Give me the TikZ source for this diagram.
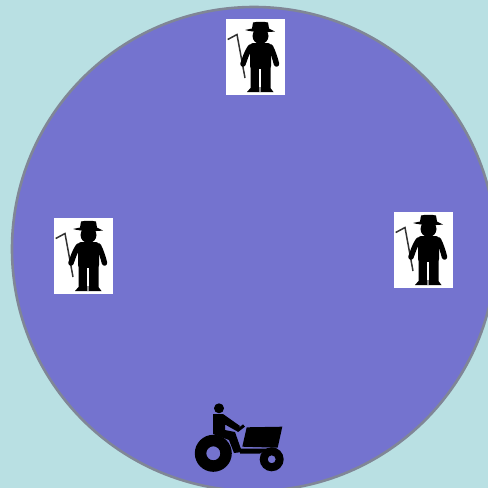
\documentclass[tikz,border=0pt]{standalone}
\usepackage{xcolor}
\usetikzlibrary{calc}
\definecolor{pageBg}{RGB}{185, 224, 227}
\definecolor{fieldFill}{RGB}{116, 115, 207}
\definecolor{fieldEdge}{RGB}{128, 134, 150}
\tikzset{
  limb/.style={draw=black, line width=5.5pt, line cap=round, line join=round},
  farmer/.pic={
    \fill[white] (0,0) rectangle (59,76);
    % hoe
    \draw[black!80, line width=1.5pt] (19,59) -- (11,15.5) -- (1.7,20.5);
    % hat
    \fill[black] (27,3.5) .. controls (31,2.5) and (38,2.5) .. (42,3.5) -- (43,9.5) -- (49,12.5) .. controls (40,13.5) and (28,13.5) .. (19,11) -- (26,9.5) -- cycle;
    \fill[black] (34.5,17) circle (8);
    % body and arms
    \fill[black, rounded corners=3pt] (24,24) rectangle (45,50);
    \draw[limb] (24.5,28) .. controls (21,33) and (19,39) .. (17,45);
    \draw[limb] (44.5,28) .. controls (47,33) and (49,39) .. (50.5,45);
    \fill[black] (24.5,45) -- (44.5,45) -- (44.5,69) -- (47.5,73) -- (21,73) -- (24.5,69) -- cycle;
    \fill[white] (32.7,50) rectangle (35.2,68);
    \fill[black!45] (32.7,68) rectangle (35.2,73);
  },
  tractor/.pic={
    \fill[black] (34,13.3) circle (5);
    % driver
    \fill[black] (28,19) -- (38,19) -- (55,31) -- (51.5,36) -- (40,29.5) -- (40,35) -- (50,37) -- (57,57) -- (49,58) -- (44,45) -- (28,39) -- cycle;
    \draw[black, line width=3pt] (52,36) -- (59,30.5);
    % hood and chassis
    \fill[black] (61.7,32.3) -- (97.3,31.7) -- (92.7,52.7) -- (57.3,51.7) -- cycle;
    \fill[black] (55,53.5) -- (84,53.5) -- (75,58.5) -- (55,58.5) -- cycle;
    % wheels
    \fill[black, even odd rule] (28.3,58.3) circle (18.5) (28.3,58.3) circle (7);
    \fill[black, even odd rule] (86.7,64.3) circle (12) (86.7,64.3) circle (4);
  }
}
\begin{document}
\begin{tikzpicture}[x=1pt, y=-1pt]
  \useasboundingbox (0,0) rectangle (488,488);
  \fill[pageBg] (0,0) rectangle (488,488);
  \begin{scope}
    \clip (0,0) rectangle (488,488);
    \draw[fill=fieldFill, draw=fieldEdge, line width=2.6pt] (254,249) circle (242);
  \end{scope}
  % Farmers
  \pic at (226,19) {farmer};
  \pic at (394,212) {farmer};
  \pic at (54,218) {farmer};
  % Tractor
  \pic at (185,395) {tractor};
\end{tikzpicture}
\end{document}
